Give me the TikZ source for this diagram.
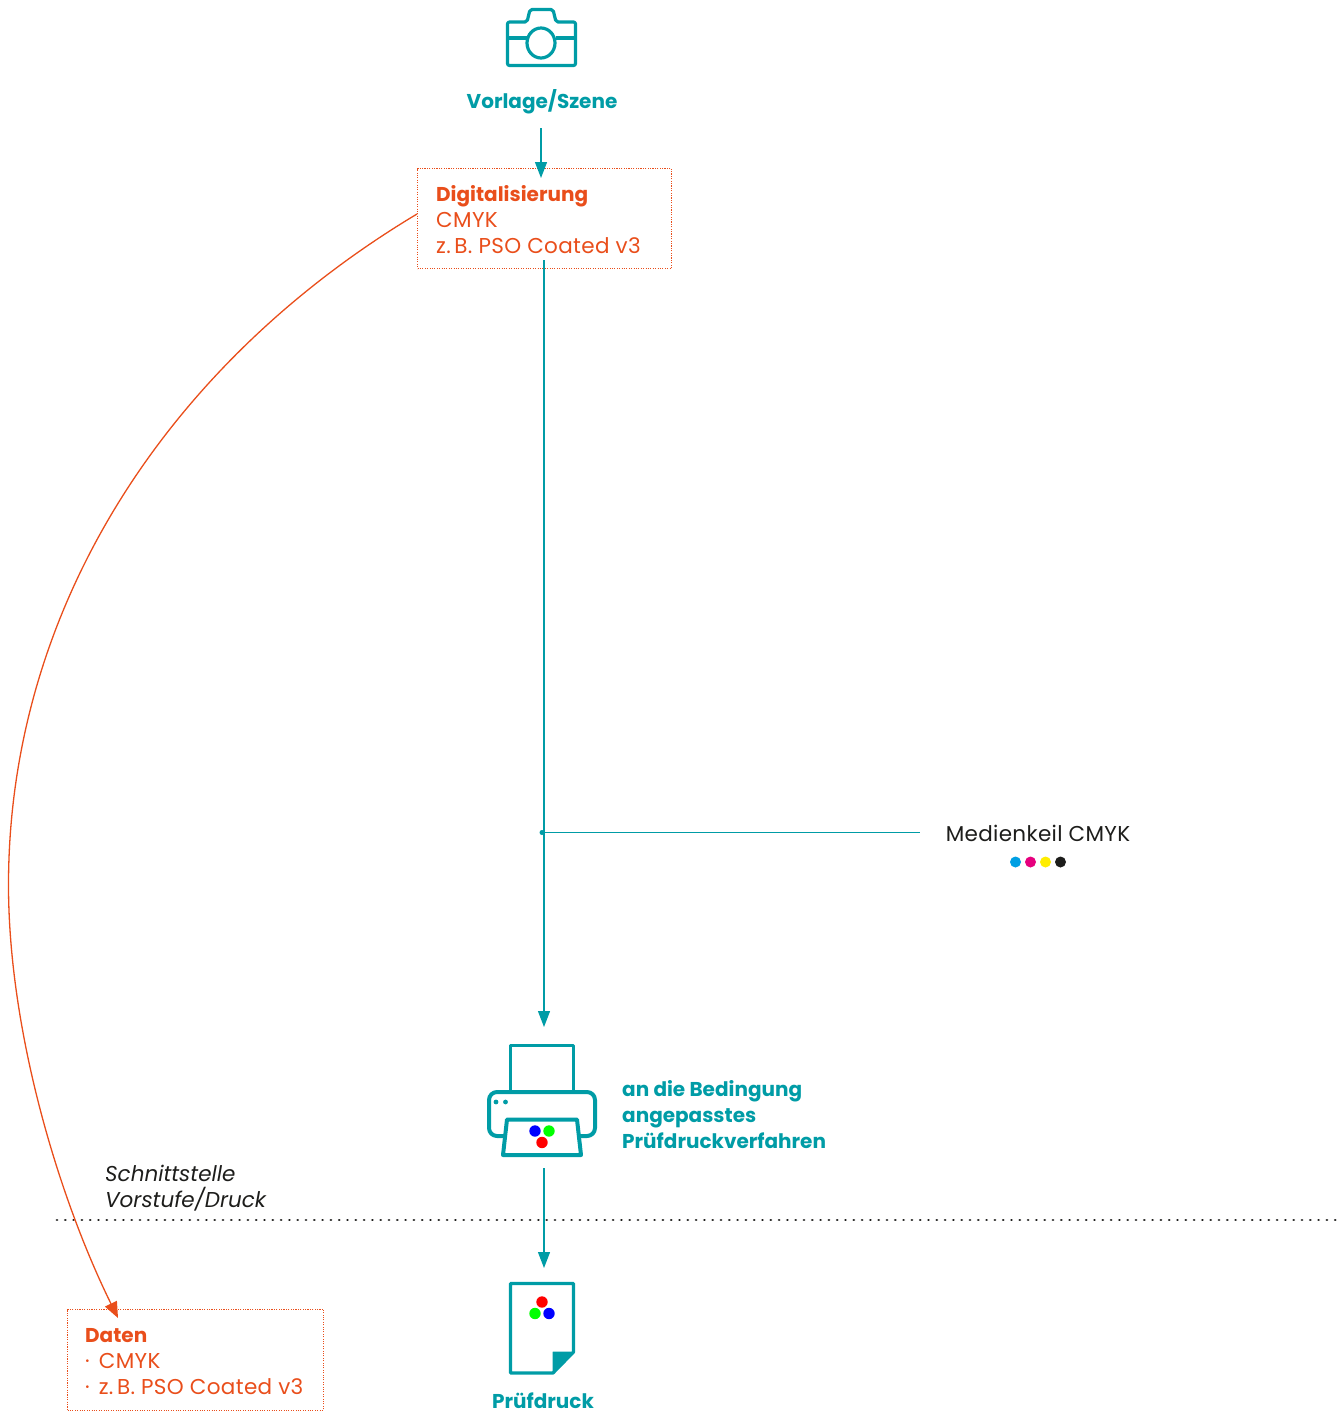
\documentclass[tikz,border=0pt]{standalone}
\usepackage{fontspec}
\setmainfont{Poppins}
\newfontfamily\spaced{Poppins}[LetterSpace=1.6]
\usetikzlibrary{arrows.meta}
\definecolor{teal1}{RGB}{0,156,166}
\definecolor{orange1}{RGB}{233,78,27}
\definecolor{ink}{RGB}{29,29,27}
\newcommand{\regfont}{\spaced\fontsize{21.5}{26}\selectfont}
\newcommand{\boldfont}{\rmfamily\fontsize{20}{26}\selectfont\bfseries}
\tikzset{
  x=1pt,y=-1pt,
  txt/.style={inner sep=0pt,font=\regfont,align=left},
  tealtxt/.style={txt,text=teal1,font=\boldfont},
  box/.style={draw=orange1,line width=1.1pt,dash pattern=on 1.1pt off 1.3pt,anchor=north west,inner sep=0pt},
  tealline/.style={draw=teal1,line width=1.3pt},
  tealarrow/.style={tealline,-{Triangle[width=12pt,length=16pt]}},
  icon/.style={draw=teal1,line width=3.2pt,line join=round},
  iconb/.style={draw=teal1,line width=4pt,line join=round},
}
\begin{document}
\begin{tikzpicture}
\useasboundingbox (0,0) rectangle (1339,1411);
% camera
\draw[icon,rounded corners=2pt] (507.5,22) -- (527,22) -- (530,9.5) -- (553,9.5) -- (556,22) -- (575.5,22) -- (575.5,65.5) -- (507.5,65.5) -- cycle;
\draw[icon] (507.5,38) -- (527,38) (556,38) -- (575.5,38);
\draw[icon] (541,43) ellipse [x radius=14,y radius=15];
\node[tealtxt,anchor=base] (vorlage) at (542,108) {Vorlage/Szene};
\coordinate (vorlageEnd) at (541,128);
\coordinate (digiIn) at (541,178);
% digitalisierung
\node[box,minimum width=254pt,minimum height=100pt] (digi) at (417,168) {};
\node[txt,text=orange1,anchor=north west] (digitext) at (436,185) {{\boldfont Digitalisierung}\\CMYK\\z.\,B. PSO Coated v3};
\draw[tealarrow] (vorlageEnd) -- (digiIn);
\coordinate (digiOut) at (544,260);
\coordinate (printerIn) at (544,1027);
\draw[tealarrow] (digiOut) -- (printerIn);
% medienkeil
\node[txt,text=ink,anchor=base] (medien) at (1038,841) {Medienkeil CMYK};
\coordinate (junction) at (542,832.5);
\coordinate (medienEnd) at (920,832.5);
\draw[tealline] (junction) -- (medienEnd);
\fill[teal1] (junction) circle (2.5);
\fill[fill={rgb,255:red,0;green,159;blue,227}] (1015.5,862) circle (5.5);
\fill[fill={rgb,255:red,230;green,0;blue,126}] (1030.5,862) circle (5.5);
\fill[fill={rgb,255:red,255;green,237;blue,0}] (1045.5,862) circle (5.5);
\fill[ink] (1060.5,862) circle (5.5);
% printer
\draw[icon] (510.5,1090) -- (510.5,1045.5) -- (573.5,1045.5) -- (573.5,1090);
\draw[iconb,rounded corners=8pt] (505,1136) -- (489,1136) -- (489,1092) -- (595,1092) -- (595,1136) -- (580,1136);
\draw[iconb] (507,1119.5) -- (577,1119.5) -- (581,1155) -- (503,1155) -- cycle;
\fill[teal1] (496,1102) circle (2.4) (505.5,1102) circle (2.4);
\fill[blue] (535,1131) circle (5.7);
\fill[green] (549,1131) circle (5.7);
\fill[red] (542,1142.5) circle (5.7);
\node[tealtxt,anchor=north west] (printertext) at (622,1080) {an die Bedingung\\angepasstes\\Prüfdruckverfahren};
\coordinate (printerOut) at (544,1168);
\coordinate (paperIn) at (544,1268);
\draw[tealarrow] (printerOut) -- (paperIn);
% interface
\node[txt,text=ink,anchor=north west,font=\rmfamily\fontsize{21.5}{26}\selectfont\itshape] (schnitt) at (105,1165) {Schnittstelle\\Vorstufe/Druck};
\coordinate (sepA) at (57,1220);
\coordinate (sepB) at (1337,1220);
\draw[ink,line width=2.9pt,line cap=round,dash pattern=on 0.01pt off 8.29pt] (sepA) -- (sepB);
% paper
\draw[icon] (573.5,1352) -- (573.5,1283.5) -- (510.5,1283.5) -- (510.5,1373) -- (553,1373) -- cycle;
\fill[teal1,draw=teal1,line width=1pt,line join=round] (574.5,1352) -- (553,1352) -- (553,1373.5) -- cycle;
\fill[red] (542,1302) circle (5.7);
\fill[green] (535,1313.5) circle (5.7);
\fill[blue] (549,1313.5) circle (5.7);
\node[tealtxt,anchor=base] (pruef) at (543,1408.5) {Prüfdruck};
% daten
\node[box,minimum width=256pt,minimum height=101pt] (daten) at (67,1308.5) {};
\node[txt,text=orange1,anchor=north west] (datentext) at (85,1328) {{\boldfont Daten}\\·\hspace{3pt} CMYK\\·\hspace{3pt} z.\,B. PSO Coated v3};
% curve
\coordinate (curveA) at (417,214);
\coordinate (curveB) at (8.5,885);
\coordinate (curveC) at (118,1318);
\draw[draw=orange1,line width=1.3pt,-{Triangle[width=13pt,length=16pt]}] (curveA) .. controls (165,365) and (8.5,610) .. (curveB) .. controls (8.5,1030) and (58,1196) .. (curveC);
\end{tikzpicture}
\end{document}
